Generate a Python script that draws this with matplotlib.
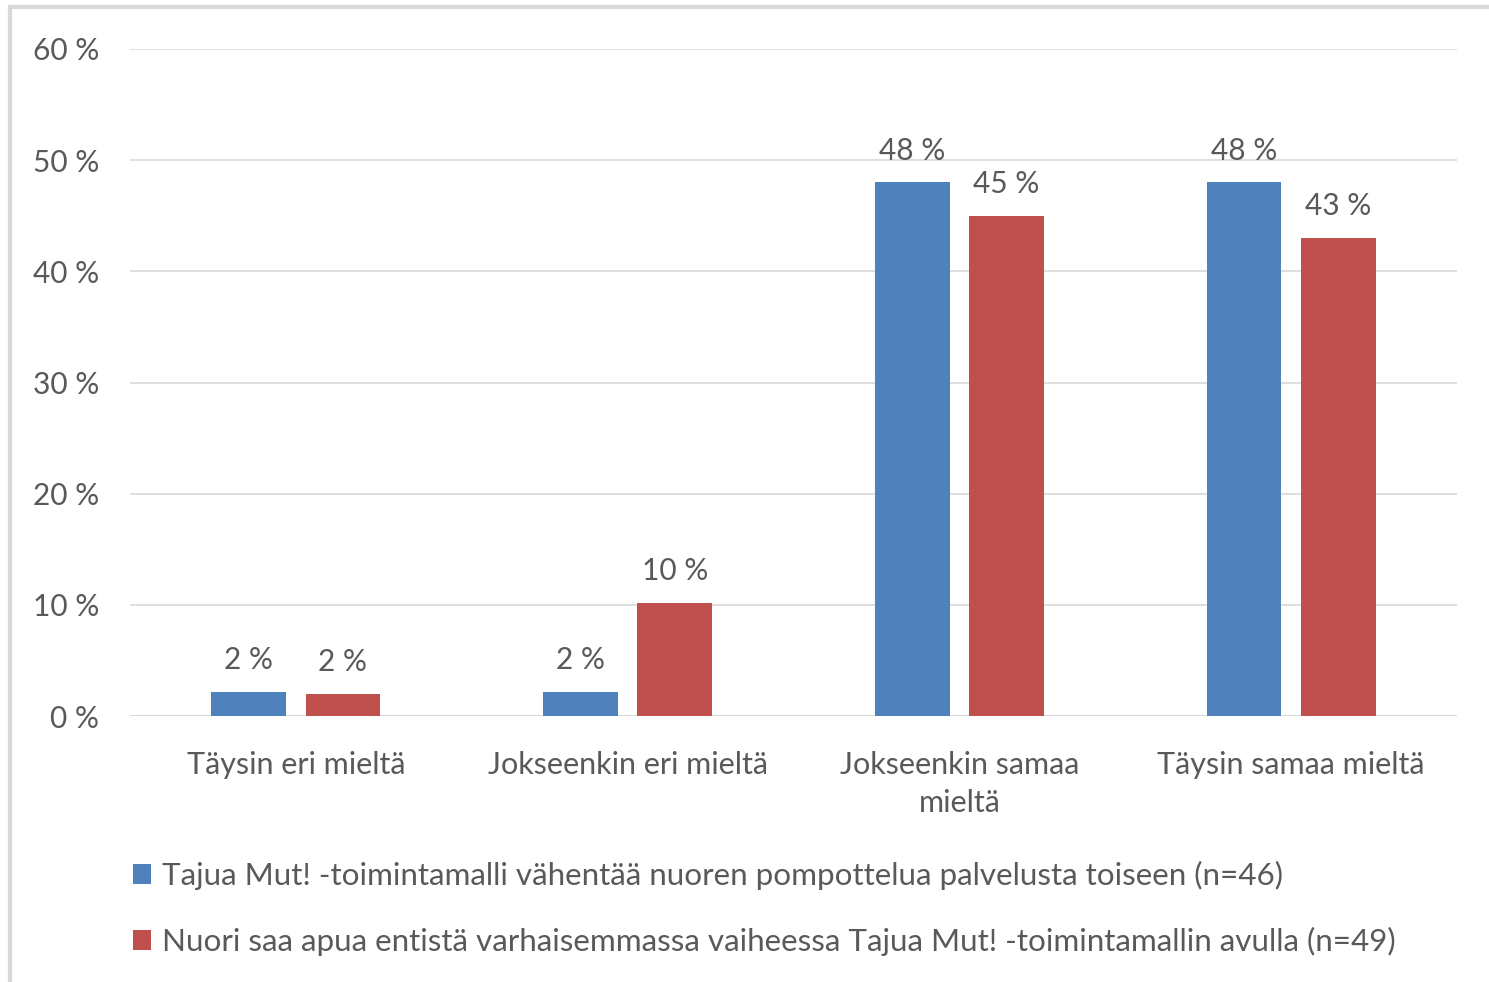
import matplotlib.pyplot as plt
import numpy as np
from matplotlib.patches import Patch, Rectangle

categories = ["Täysin eri mieltä", "Jokseenkin eri mieltä", "Jokseenkin samaa\nmieltä", "Täysin samaa mieltä"]
series_names = [
    "Tajua Mut! -toimintamalli vähentää nuoren pompottelua palvelusta toiseen (n=46)",
    "Nuori saa apua entistä varhaisemmassa vaiheessa Tajua Mut! -toimintamallin avulla (n=49)",
]
blue_values = [2.15, 2.15, 48, 48]
red_values = [2.0, 10.2, 45, 43]
blue_labels = ["2 %", "2 %", "48 %", "48 %"]
red_labels = ["2 %", "10 %", "45 %", "43 %"]
yticks = [0, 10, 20, 30, 40, 50, 60]

BLUE = "#4F81BD"
RED = "#C0504D"
TEXT = "#595959"
FS = 22
plt.rcParams['font.family'] = ['Lato', 'DejaVu Sans']

fig = plt.figure(figsize=(14.89, 9.82), dpi=100)
# outer frame (top and left edges visible)
fig.add_artist(Rectangle((10 / 1489, -0.05), 1.1, (1 - 7 / 982) + 0.05, transform=fig.transFigure,
                         fill=False, edgecolor="#d9d9d9", linewidth=3))
ax = fig.add_axes([130 / 1489, 1 - 716 / 982, (1457 - 130) / 1489, (716 - 49) / 982])

x = np.arange(len(categories))
w = 0.225
off = 0.142
b1 = ax.bar(x - off, blue_values, w, color=BLUE, zorder=3)
b2 = ax.bar(x + off, red_values, w, color=RED, zorder=3)

for bars, labels in ((b1, blue_labels), (b2, red_labels)):
    for bar, lab in zip(bars, labels):
        ax.text(bar.get_x() + bar.get_width() / 2, bar.get_height() + 1.6, lab,
                ha="center", va="bottom", fontsize=FS - 0.5, color=TEXT)

ax.set_xlim(-0.5, 3.5)
ax.set_ylim(0, 60)
ax.set_yticks(yticks)
ax.set_yticklabels([f"{v} %" for v in yticks], fontsize=FS - 0.5, color=TEXT)
ax.set_xticks(x)
ax.set_xticklabels(categories, fontsize=FS, color=TEXT, linespacing=1.45)
ax.tick_params(axis="both", length=0)
ax.tick_params(axis="x", pad=25)
ax.tick_params(axis="y", pad=22)
ax.grid(axis="y", color="#d9d9d9", linewidth=1.2, zorder=0)
for s in ax.spines.values():
    s.set_visible(False)
ax.axhline(0, color="#d9d9d9", linewidth=1.5, zorder=2)

handles = [Patch(facecolor=BLUE, label=series_names[0]), Patch(facecolor=RED, label=series_names[1])]
fig.legend(handles=handles, loc="upper left", bbox_to_anchor=(120 / 1489, 1 - 848 / 982),
           frameon=False, fontsize=FS + 0.6, labelcolor=TEXT, handlelength=0.6, handleheight=0.6,
           handletextpad=0.35, labelspacing=1.2, borderaxespad=0)

plt.savefig("out.png", dpi=100)
plt.close()
